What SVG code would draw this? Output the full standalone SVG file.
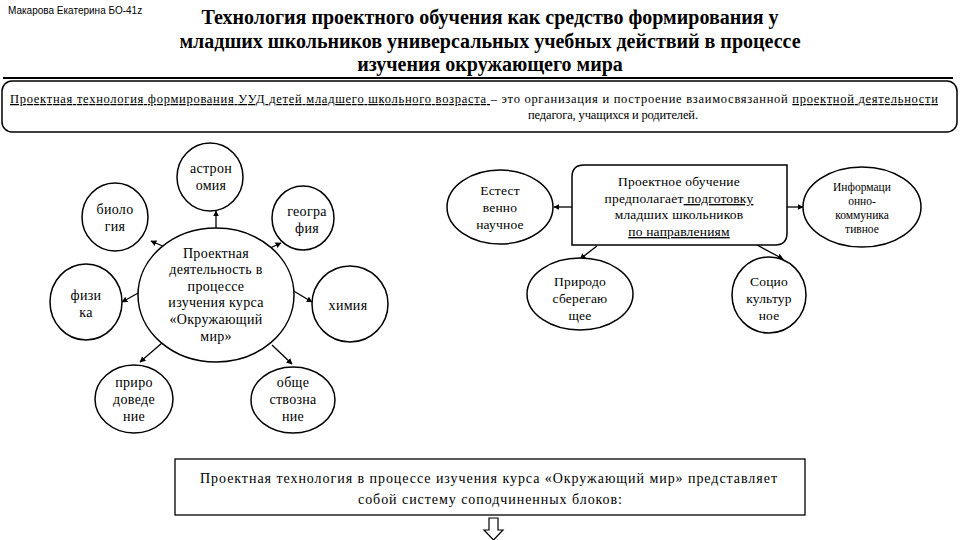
<svg xmlns="http://www.w3.org/2000/svg" width="960" height="540" viewBox="0 0 960 540" font-family="'Liberation Serif', 'DejaVu Serif', 'Times New Roman', serif">
<defs>
<style>
.s{fill:#000}
.t{font-size:20px;font-weight:bold;text-anchor:middle}
.n{font-size:14px;text-anchor:middle;letter-spacing:0.3px}
.sm{font-size:13.5px;text-anchor:middle;letter-spacing:0.2px}
.xs{font-size:11.5px;text-anchor:middle}
.sh{fill:#fff;stroke:#000;stroke-width:1.5}
.ln{stroke:#000;stroke-width:1.3;fill:none;marker-end:url(#ah)}
.u{text-decoration:underline}
</style>
<marker id="ah" viewBox="0 0 10 10" refX="9" refY="5" markerWidth="6" markerHeight="6" orient="auto" markerUnits="userSpaceOnUse">
<path d="M0,0 L10,5 L0,10 z" fill="#000"/>
</marker>
</defs>
<rect width="960" height="540" fill="#fff"/>

<g id="header">
<text x="8" y="14" font-family="'Liberation Sans', Arial, sans-serif" font-size="10" fill="#000">Макарова Екатерина БО-41z</text>
<text class="s t" x="490" y="24">Технология проектного обучения как средство формирования у</text>
<text class="s t" x="490" y="48">младших школьников универсальных учебных действий в процессе</text>
<text class="s t" x="490" y="71">изучения окружающего мира</text>
<line x1="3" y1="78" x2="953" y2="78" stroke="#000" stroke-width="2"/>
</g>

<g id="definition">
<rect x="2" y="81" width="955" height="51" rx="10" fill="none" stroke="#000" stroke-width="1.5"/>
<text class="s" x="10" y="103" font-size="12.5" textLength="928" lengthAdjust="spacing"><tspan class="u">Проектная технология формирования УУД детей младшего школьного возраста </tspan>– это организация и построение взаимосвязанной <tspan class="u">проектной деятельности</tspan></text>
<text class="s" x="528" y="119" font-size="12.5" textLength="170" lengthAdjust="spacing">педагога, учащихся и родителей.</text>
</g>

<g id="connectors">
<line class="ln" x1="216" y1="228" x2="216" y2="211"/>
<line class="ln" x1="165" y1="247" x2="151" y2="241"/>
<line class="ln" x1="268" y1="249" x2="281" y2="243"/>
<line class="ln" x1="140" y1="292" x2="122" y2="302"/>
<line class="ln" x1="292" y1="290" x2="312" y2="302"/>
<line class="ln" x1="162" y1="343" x2="140" y2="362"/>
<line class="ln" x1="272" y1="345" x2="292" y2="364"/>
<line class="ln" x1="572" y1="207" x2="554" y2="207"/>
<line class="ln" x1="787" y1="207" x2="803" y2="207"/>
<line class="ln" x1="597" y1="246" x2="580" y2="259"/>
<line class="ln" x1="757" y1="245" x2="783" y2="259"/>
</g>

<g id="center">
<ellipse class="sh" cx="216" cy="295" rx="78" ry="67"/>
<text class="s n" x="216" y="258">Проектная</text>
<text class="s n" x="216" y="274">деятельность в</text>
<text class="s n" x="216" y="291">процессе</text>
<text class="s n" x="216" y="307">изучения курса</text>
<text class="s n" x="216" y="324">«Окружающий</text>
<text class="s n" x="216" y="341">мир»</text>
</g>

<g id="astronomy">
<ellipse class="sh" cx="210" cy="177" rx="33" ry="34"/>
<text class="s n" x="211" y="173">астрон</text>
<text class="s n" x="211" y="190">омия</text>
</g>
<g id="biology">
<ellipse class="sh" cx="115" cy="217" rx="33" ry="34"/>
<text class="s n" x="115" y="214">биоло</text>
<text class="s n" x="115" y="231">гия</text>
</g>
<g id="geography">
<ellipse class="sh" cx="303" cy="218" rx="31" ry="32"/>
<text class="s n" x="307" y="216">геогра</text>
<text class="s n" x="307" y="233">фия</text>
</g>
<g id="physics">
<ellipse class="sh" cx="86" cy="302" rx="36" ry="38"/>
<text class="s n" x="86" y="300">физи</text>
<text class="s n" x="86" y="317">ка</text>
</g>
<g id="chemistry">
<ellipse class="sh" cx="350" cy="304" rx="38" ry="38"/>
<text class="s n" x="348" y="310">химия</text>
</g>
<g id="natural-history">
<ellipse class="sh" cx="134" cy="399" rx="39" ry="34"/>
<text class="s n" x="134" y="387">приро</text>
<text class="s n" x="134" y="404">доведе</text>
<text class="s n" x="134" y="421">ние</text>
</g>
<g id="social-studies">
<ellipse class="sh" cx="293" cy="400" rx="42" ry="33"/>
<text class="s n" x="293" y="387">обще</text>
<text class="s n" x="293" y="404">ствозна</text>
<text class="s n" x="293" y="421">ние</text>
</g>

<g id="project-learning">
<path class="sh" d="M584,165 H787 V233 Q787,245 775,245 H572 V177 Q572,165 584,165 z"/>
<text class="s sm" x="679" y="186">Проектное обучение</text>
<text class="s sm" x="679" y="203">предполагает<tspan class="u"> подготовку</tspan></text>
<text class="s sm" x="679" y="219">младших школьников</text>
<text class="s sm" x="679" y="236"><tspan class="u">по направлениям</tspan></text>
</g>
<g id="natural-science">
<ellipse class="sh" cx="500" cy="207" rx="53" ry="37"/>
<text class="s sm" x="500" y="195">Естест</text>
<text class="s sm" x="500" y="212">венно</text>
<text class="s sm" x="500" y="229">научное</text>
</g>
<g id="info-comm">
<ellipse class="sh" cx="862" cy="207" rx="59" ry="40"/>
<text class="s xs" x="862" y="191">Информаци</text>
<text class="s xs" x="862" y="205">онно-</text>
<text class="s xs" x="862" y="219">коммуника</text>
<text class="s xs" x="862" y="233">тивное</text>
</g>
<g id="nature-saving">
<ellipse class="sh" cx="580" cy="294" rx="53" ry="36"/>
<text class="s sm" x="580" y="286">Природо</text>
<text class="s sm" x="580" y="303">сберегаю</text>
<text class="s sm" x="580" y="320">щее</text>
</g>
<g id="sociocultural">
<ellipse class="sh" cx="769" cy="295" rx="37" ry="38"/>
<text class="s sm" x="769" y="286">Социо</text>
<text class="s sm" x="769" y="303">культур</text>
<text class="s sm" x="769" y="320">ное</text>
</g>

<g id="summary">
<rect x="175" y="459" width="630" height="56" fill="#fff" stroke="#000" stroke-width="1.3"/>
<text class="s" x="200" y="483" font-size="14" textLength="577" lengthAdjust="spacing">Проектная технология в процессе изучения курса «Окружающий мир» представляет</text>
<text class="s" x="358" y="504" font-size="14" textLength="264" lengthAdjust="spacing">собой систему соподчиненных блоков:</text>
<path d="M489,518 H498 V530 H503 L493.5,540 L484,530 H489 z" fill="#fff" stroke="#000" stroke-width="1.2"/>
</g>
</svg>
